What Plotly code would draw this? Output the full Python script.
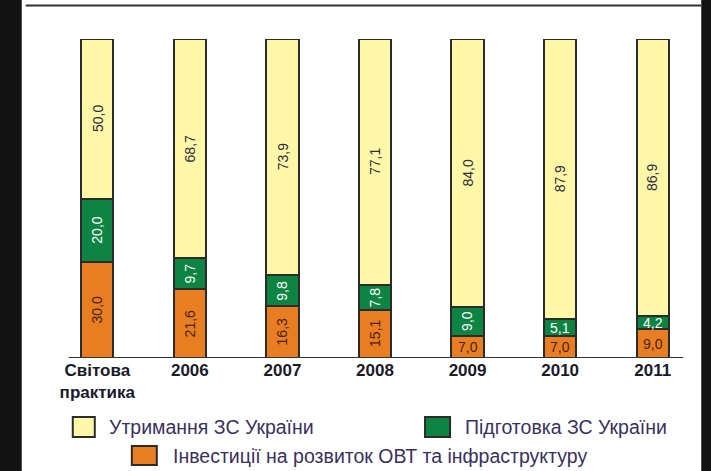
import plotly.graph_objects as go

categories = ["Світова<br>практика", "2006", "2007", "2008", "2009", "2010", "2011"]
invest = [30.0, 21.6, 16.3, 15.1, 7.0, 7.0, 9.0]
training = [20.0, 9.7, 9.8, 7.8, 9.0, 5.1, 4.2]
upkeep = [50.0, 68.7, 73.9, 77.1, 84.0, 87.9, 86.9]
# which labels are horizontal (small segments)
invest_horiz = [False, False, False, False, True, True, True]
training_horiz = [False, False, False, False, False, True, True]
upkeep_horiz = [False] * 7

legend_names = ["Утримання ЗС України", "Підготовка ЗС України",
                "Інвестиції на розвиток ОВТ та інфраструктуру"]

YELLOW = "#FFF7A8"
GREEN = "#0E8442"
ORANGE = "#E87D22"
EDGE = "#2b2b2b"

W, H = 711, 471
L, R = 51.25, 698.75
T, B = 39, 358


def px(x):
    return (x - L) / (R - L)


def py(y):
    return (B - y) / (B - T)


fig = go.Figure()
for vals, col in [(invest, ORANGE), (training, GREEN), (upkeep, YELLOW)]:
    fig.add_trace(go.Bar(x=categories, y=vals, marker=dict(color=col, line=dict(color=EDGE, width=2)),
                         width=0.35, showlegend=False, hoverinfo="skip"))


def fmt(v):
    return f"{v:.1f}".replace(".", ",")


annotations = []
base = [0.0] * 7
for vals, horiz, tcol in [(invest, invest_horiz, "#4a2408"), (training, training_horiz, "#ffffff"),
                          (upkeep, upkeep_horiz, "#2e2c40")]:
    for i, v in enumerate(vals):
        mid = base[i] + v / 2
        annotations.append(dict(x=i, y=mid, xref="x", yref="y", text=fmt(v),
                                showarrow=False, textangle=0 if horiz[i] else -90,
                                font=dict(family="Liberation Sans, Arial", size=14, color=tcol)))
        base[i] += v

shapes = []
# black side strips
shapes.append(dict(type="rect", xref="paper", yref="paper", x0=px(-5), x1=px(22), y0=py(480), y1=py(-5),
                   fillcolor="#121212", line=dict(width=0), layer="above"))
shapes.append(dict(type="rect", xref="paper", yref="paper", x0=px(701), x1=px(716), y0=py(480), y1=py(-5),
                   fillcolor="#121212", line=dict(width=0), layer="above"))
# top rule
shapes.append(dict(type="line", xref="paper", yref="paper", x0=px(26), x1=px(701), y0=py(5.5), y1=py(5.5),
                   line=dict(color="#333333", width=2)))
# baseline
shapes.append(dict(type="line", xref="paper", yref="y", x0=px(69), x1=px(683), y0=0, y1=0,
                   line=dict(color="#333333", width=2), layer="above"))

# legend
leg = [(YELLOW, 73, 95, 417, 437, 107, 427, legend_names[0]),
       (GREEN, 425, 450, 417, 437, 463, 427, legend_names[1]),
       (ORANGE, 132, 157, 446, 465, 171, 456, legend_names[2])]
for col, x0, x1, y0, y1, tx, ty, name in leg:
    shapes.append(dict(type="rect", xref="paper", yref="paper", x0=px(x0), x1=px(x1), y0=py(y1), y1=py(y0),
                       fillcolor=col, line=dict(color=EDGE, width=2)))
    annotations.append(dict(x=px(tx), y=py(ty), xref="paper", yref="paper", text=name, showarrow=False,
                            xanchor="left", yanchor="middle",
                            font=dict(family="Liberation Sans, Arial", size=19.5, color="#3a3060")))

fig.update_layout(
    width=W, height=H,
    margin=dict(l=L, r=W - R, t=T, b=H - B, pad=0),
    paper_bgcolor="white", plot_bgcolor="white",
    barmode="stack",
    xaxis=dict(type="category", range=[-0.5, 6.5], showgrid=False, showline=False, zeroline=False, ticks="",
               tickfont=dict(family="Liberation Sans, Arial", size=17, color="#1a1a2a"),
               tickprefix="<b>", ticksuffix="</b>"),
    yaxis=dict(range=[0, 100], visible=False, showgrid=False, zeroline=False),
    shapes=shapes, annotations=annotations,
)
fig.write_html("out.html", config={"displayModeBar": False},
               post_script="document.body.style.margin='0';document.body.style.overflow='hidden';")
